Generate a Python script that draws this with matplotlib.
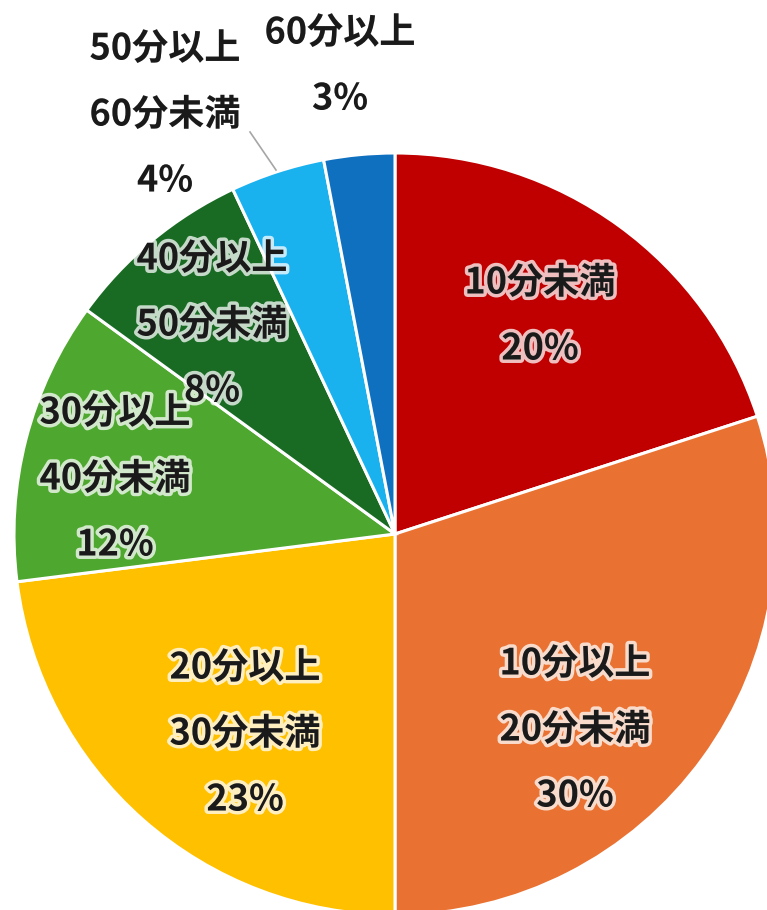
import matplotlib
matplotlib.use('Agg')
from matplotlib import pyplot as plt
import matplotlib.patheffects as pe

plt.rcParams['font.family'] = ['Noto Sans CJK JP', 'DejaVu Sans']

labels = ['10分未満', '10分以上\n20分未満', '20分以上\n30分未満', '30分以上\n40分未満',
          '40分以上\n50分未満', '50分以上\n60分未満', '60分以上']
shares = [20, 30, 23, 12, 8, 4, 3]
colors = ['#C00000', '#E97132', '#FFC000', '#4EA72E', '#196B24', '#1AB1EF', '#0F70C0']

W, H = 767, 910
cx, cy, r = 395, 534, 381   # pie centre / radius in pixels


def to_data(px, py):
    return (px - cx) / r, (cy - py) / r


fig = plt.figure(figsize=(W / 100, H / 100), dpi=100)
ax = fig.add_axes([0, 0, 1, 1])
ax.pie(shares, colors=colors, startangle=90, counterclock=False, radius=1,
       wedgeprops=dict(edgecolor='white', linewidth=2.2))
x0, _ = to_data(0, 0)
x1, _ = to_data(W, 0)
_, y0 = to_data(0, H)
_, y1 = to_data(0, 0)
ax.set_xlim(x0, x1)
ax.set_ylim(y0, y1)
ax.set_aspect('equal')
ax.axis('off')

# label centres (pixels)
label_pos = [(540, 316), (575, 730), (245, 734), (115, 479), (212, 325), (165, 115), (340, 66)]
glow = [pe.withStroke(linewidth=5, foreground='white', alpha=0.75)]
for lab, v, (px, py) in zip(labels, shares, label_pos):
    tx, ty = to_data(px, py)
    ax.text(tx, ty, f'{lab}\n{v}%', ha='center', va='center', fontsize=26,
            fontweight='bold', color='#1a1a1a', linespacing=2.0,
            path_effects=glow)

# leader line for the 4% slice
lx0, ly0 = to_data(250, 132)
lx1, ly1 = to_data(276, 170)
ax.plot([lx0, lx1], [ly0, ly1], color='#a6a6a6', lw=1.2)

fig.savefig('out.png', dpi=100)
